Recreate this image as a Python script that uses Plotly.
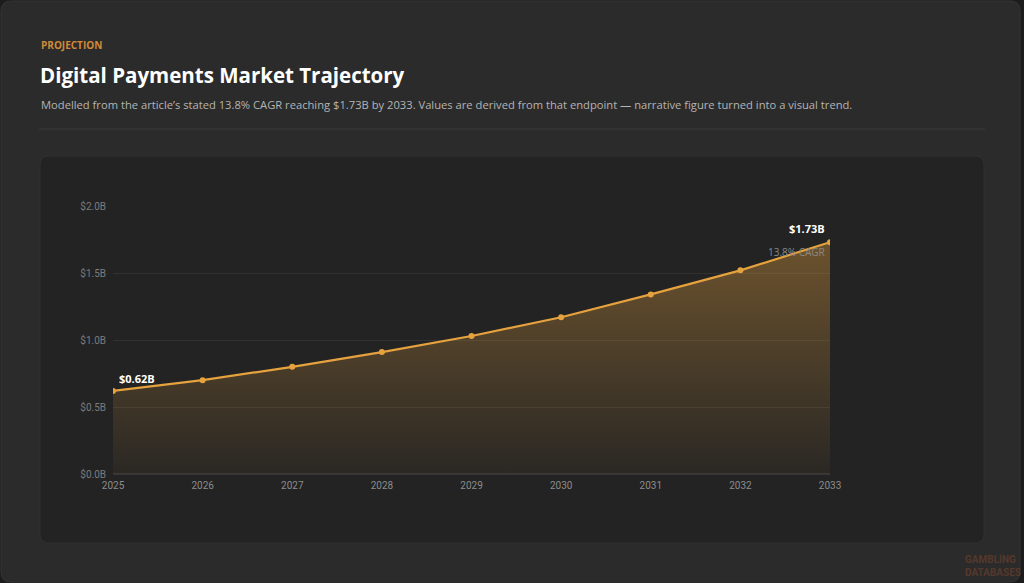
import plotly.graph_objects as go

years = [2025, 2026, 2027, 2028, 2029, 2030, 2031, 2032, 2033]
values = [0.62, 0.70, 0.80, 0.91, 1.03, 1.17, 1.34, 1.52, 1.73]
y_ticks = [0.0, 0.5, 1.0, 1.5, 2.0]
y_tick_labels = ["$0.0B", "$0.5B", "$1.0B", "$1.5B", "$2.0B"]

W, H = 1024, 583
ORANGE = "#e6a23e"

def px(x):
    return x / W

def py(y):
    return 1 - y / H

fig = go.Figure()
fig.add_trace(go.Scatter(
    x=years, y=values, mode="lines+markers",
    line=dict(color=ORANGE, width=2.2),
    marker=dict(size=6, color=ORANGE),
    fill="tozeroy",
    fillgradient=dict(type="vertical",
                      colorscale=[[0, "rgba(227,160,63,0.04)"], [1, "rgba(227,160,63,0.38)"]]),
    hoverinfo="x+y",
    showlegend=False,
))

def rounded(x0, y0, x1, y1, r):
    X0, X1 = px(x0), px(x1)
    Y0, Y1 = py(y0), py(y1)
    rx, ry = r / W, r / H
    return (f"M{X0+rx},{Y0} L{X1-rx},{Y0} Q{X1},{Y0} {X1},{Y0-ry} "
            f"L{X1},{Y1+ry} Q{X1},{Y1} {X1-rx},{Y1} L{X0+rx},{Y1} "
            f"Q{X0},{Y1} {X0},{Y1+ry} L{X0},{Y0-ry} Q{X0},{Y0} {X0+rx},{Y0} Z")

shapes = [
    dict(type="path", xref="paper", yref="paper", path=rounded(1, 1, 1020, 582, 10),
         fillcolor="#2b2b2b", line=dict(color="#343434", width=1), layer="below"),
    dict(type="line", xref="paper", yref="paper", x0=px(39), x1=px(985), y0=py(129), y1=py(129),
         line=dict(color="#3a3a3a", width=1)),
    dict(type="path", xref="paper", yref="paper", path=rounded(40, 156, 984, 543, 9),
         fillcolor="#232323", line=dict(color="#303030", width=1), layer="below"),
]

annotations = [
    dict(text="<b>PROJECTION</b>", xref="paper", yref="paper", x=px(39), y=py(45),
         xanchor="left", yanchor="middle", showarrow=False,
         font=dict(family="Open Sans", size=10, color="#d08a38")),
    dict(text="<b>Digital Payments Market Trajectory</b>", xref="paper", yref="paper",
         x=px(38), y=py(75), xanchor="left", yanchor="middle", showarrow=False,
         font=dict(family="Open Sans", size=20.5, color="#ffffff")),
    dict(text="Modelled from the article\u2019s stated 13.8% CAGR reaching $1.73B by 2033. Values are derived from that endpoint \u2014 narrative figure turned into a visual trend.",
         xref="paper", yref="paper", x=px(39), y=py(104), xanchor="left", yanchor="middle",
         showarrow=False, font=dict(family="Open Sans", size=11.2, color="#b4b4b4")),
    dict(text="<b>$%.2fB</b>" % values[0], x=years[0], y=values[0], xref="x", yref="y",
         xanchor="left", yanchor="bottom", xshift=4, yshift=3, showarrow=False,
         font=dict(family="Open Sans", size=11, color="#ffffff")),
    dict(text="<b>$%.2fB</b>" % values[-1], x=years[-1], y=values[-1], xref="x", yref="y",
         xanchor="right", yanchor="bottom", xshift=-3, yshift=4, showarrow=False,
         font=dict(family="Open Sans", size=11, color="#ffffff")),
    dict(text="13.8% CAGR", x=years[-1], y=values[-1], xref="x", yref="y",
         xanchor="right", yanchor="top", xshift=-3, yshift=-1, showarrow=False,
         font=dict(family="Open Sans", size=10, color="#8a8a8a")),
    dict(text="<b>GAMBLING<br>DATABASES</b>", xref="paper", yref="paper", x=px(1023), y=py(580),
         xanchor="right", yanchor="bottom", showarrow=False, align="left",
         font=dict(family="Roboto", size=10, color="rgba(150,80,45,0.4)")),
]

fig.update_layout(
    width=W, height=H,
    margin=dict(l=0, r=0, t=0, b=0, pad=0, autoexpand=False),
    paper_bgcolor="#1c1c1c",
    plot_bgcolor="rgba(0,0,0,0)",
    shapes=shapes,
    annotations=annotations,
    xaxis=dict(domain=[px(113), px(830)], range=[years[0], years[-1]],
               tickvals=years, ticktext=[str(y) for y in years],
               showgrid=False, zeroline=False, showline=False, automargin=False,
               tickfont=dict(family="Roboto", size=10, color="#8c8c8c"),
               ticks="", ticklabelstandoff=4),
    yaxis=dict(domain=[py(474), py(206)], range=[0, 2.0], tickvals=y_ticks,
               ticktext=y_tick_labels, automargin=False,
               showgrid=True, gridcolor="#313131", gridwidth=1,
               zeroline=True, zerolinecolor="#353535",
               tickfont=dict(family="Roboto", size=10, color="#7c7c7c"),
               ticks="", ticklabelstandoff=6),
    hovermode="closest",
)

fig.write_html(
    "out.html",
    config={"displayModeBar": False},
    post_script=("document.documentElement.style.margin='0';"
                 "document.documentElement.style.overflow='hidden';"
                 "document.body.style.margin='0';document.body.style.padding='0';"
                 "document.body.style.overflow='hidden';"
                 "document.body.style.background='#1c1c1c';"),
)
